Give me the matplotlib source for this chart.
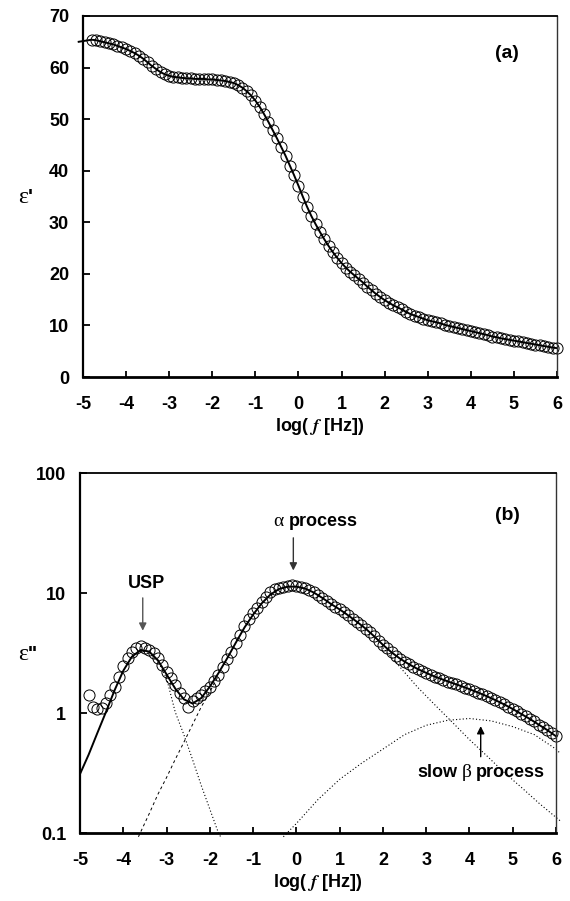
import numpy as np
import matplotlib
matplotlib.use('Agg')
import matplotlib.pyplot as plt

plt.rcParams['font.family'] = ['Liberation Sans', 'DejaVu Sans']
plt.rcParams['font.weight'] = 'bold'
plt.rcParams['axes.labelweight'] = 'bold'
plt.rcParams['mathtext.fontset'] = 'stix'

# measured frequencies, log10(f / Hz)
log_f = [-4.8, -4.7, -4.6, -4.5, -4.4, -4.3, -4.2, -4.1, -4.0, -3.9,
         -3.8, -3.7, -3.6, -3.5, -3.4, -3.3, -3.2, -3.1, -3.0, -2.9,
         -2.8, -2.7, -2.6, -2.5, -2.4, -2.3, -2.2, -2.1, -2.0, -1.9,
         -1.8, -1.7, -1.6, -1.5, -1.4, -1.3, -1.2, -1.1, -1.0, -0.9,
         -0.8, -0.7, -0.6, -0.5, -0.4, -0.3, -0.2, -0.1, 0.0, 0.1,
         0.2, 0.3, 0.4, 0.5, 0.6, 0.7, 0.8, 0.9, 1.0, 1.1,
         1.2, 1.3, 1.4, 1.5, 1.6, 1.7, 1.8, 1.9, 2.0, 2.1,
         2.2, 2.3, 2.4, 2.5, 2.6, 2.7, 2.8, 2.9, 3.0, 3.1,
         3.2, 3.3, 3.4, 3.5, 3.6, 3.7, 3.8, 3.9, 4.0, 4.1,
         4.2, 4.3, 4.4, 4.5, 4.6, 4.7, 4.8, 4.9, 5.0, 5.1,
         5.2, 5.3, 5.4, 5.5, 5.6, 5.7, 5.8, 5.9, 6.0]

# (a) real permittivity
eps_real = [65.4, 65.3, 65.1, 64.9, 64.7, 64.5, 64.2, 63.9, 63.6, 63.2,
            62.8, 62.3, 61.7, 61.0, 60.3, 59.7, 59.1, 58.7, 58.4, 58.2,
            58.1, 58.0, 57.9, 57.9, 57.8, 57.8, 57.8, 57.7, 57.7, 57.6,
            57.5, 57.4, 57.2, 57.0, 56.6, 56.1, 55.4, 54.6, 53.6, 52.4,
            51.0, 49.5, 47.9, 46.3, 44.6, 42.9, 41.0, 39.1, 37.1, 35.0,
            33.0, 31.2, 29.6, 28.1, 26.7, 25.4, 24.2, 23.1, 22.1, 21.2,
            20.4, 19.7, 19.0, 18.3, 17.5, 16.8, 16.1, 15.5, 14.9, 14.4,
            13.9, 13.5, 13.1, 12.6, 12.2, 11.9, 11.6, 11.3, 11.0, 10.8,
            10.6, 10.4, 10.1, 9.9, 9.7, 9.5, 9.3, 9.1, 8.9, 8.7,
            8.5, 8.3, 8.1, 7.85, 7.7, 7.5, 7.35, 7.2, 7.05, 6.9,
            6.75, 6.6, 6.45, 6.3, 6.15, 6.0, 5.85, 5.7, 5.6]
fit_real_start = (-5.1, 65.0)

# (b) dielectric loss
eps_loss = [1.42, 1.12, 1.08, 1.10, 1.22, 1.40, 1.65, 2.00, 2.45, 2.90,
            3.25, 3.45, 3.65, 3.45, 3.35, 3.15, 2.85, 2.50, 2.20, 1.95,
            1.70, 1.48, 1.33, 1.12, 1.25, 1.33, 1.40, 1.52, 1.66, 1.86,
            2.08, 2.40, 2.80, 3.20, 3.80, 4.50, 5.30, 6.10, 6.80, 7.50,
            8.40, 9.30, 10.1, 10.8, 11.1, 11.3, 11.5, 11.6, 11.5, 11.3,
            11.0, 10.6, 10.1, 9.6, 9.1, 8.6, 8.1, 7.7, 7.3, 6.9,
            6.5, 6.1, 5.75, 5.4, 5.05, 4.7, 4.35, 4.0, 3.7, 3.45,
            3.2, 3.0, 2.83, 2.68, 2.55, 2.43, 2.33, 2.24, 2.16, 2.08,
            2.01, 1.95, 1.89, 1.83, 1.78, 1.73, 1.68, 1.63, 1.58, 1.53,
            1.48, 1.43, 1.38, 1.33, 1.28, 1.23, 1.18, 1.13, 1.08, 1.03,
            0.98, 0.94, 0.89, 0.85, 0.80, 0.76, 0.72, 0.68, 0.64]

fit_loss_x = [-5.0, -4.8, -4.6, -4.4, -4.2, -4.0, -3.8, -3.6, -3.4, -3.2,
              -3.0, -2.8, -2.6, -2.4, -2.2, -2.0, -1.8, -1.6, -1.4, -1.2,
              -1.0, -0.8, -0.6, -0.4, -0.2, 0.0, 0.2, 0.4, 0.6, 0.8,
              1.0, 1.2, 1.4, 1.6, 1.8, 2.0, 2.2, 2.4, 2.6, 2.8,
              3.0, 3.2, 3.4, 3.6, 3.8, 4.0, 4.2, 4.4, 4.6, 4.8,
              5.0, 5.2, 5.4, 5.6, 5.8, 6.0]
fit_loss_y = [0.31, 0.45, 0.68, 1.02, 1.55, 2.25, 2.95, 3.35, 3.25, 2.75,
              2.10, 1.60, 1.30, 1.20, 1.33, 1.66, 2.15, 2.85, 3.85, 5.15,
              6.6, 8.2, 9.7, 10.8, 11.3, 11.3, 10.9, 10.1, 9.1, 8.1,
              7.3, 6.5, 5.75, 5.05, 4.35, 3.7, 3.2, 2.83, 2.55, 2.33,
              2.16, 2.01, 1.89, 1.78, 1.68, 1.58, 1.48, 1.38, 1.28, 1.18,
              1.08, 0.98, 0.89, 0.80, 0.72, 0.64]

# fitted components
usp_x = [-3.6, -3.4, -3.2, -3.0, -2.8, -2.6, -2.4, -2.2, -2.0, -1.8, -1.75]
usp_y = [3.35, 3.2, 2.7, 1.95, 1.02, 0.66, 0.41, 0.25, 0.158, 0.1, 0.093]
alpha_lo_x = [-3.65, -3.4, -3.2, -3.0, -2.8, -2.6, -2.4, -2.2, -2.0, -1.8]
alpha_lo_y = [0.093, 0.145, 0.21, 0.29, 0.41, 0.57, 0.8, 1.12, 1.5, 2.05]
alpha_hi_x = [2.0, 2.4, 2.8, 3.2, 3.6, 4.0, 4.4, 4.8, 5.2, 5.6, 6.0, 6.1]
alpha_hi_y = [3.5, 2.4, 1.64, 1.17, 0.84, 0.6, 0.44, 0.32, 0.24, 0.178, 0.135, 0.126]
beta_x = [-0.3, 0.0, 0.5, 1.0, 1.5, 2.0, 2.5, 3.0, 3.5, 4.0, 4.5, 5.0, 5.5, 6.0, 6.1]
beta_y = [0.093, 0.12, 0.19, 0.28, 0.38, 0.5, 0.66, 0.79, 0.87, 0.9, 0.86, 0.77, 0.66, 0.5, 0.46]

x_ticks = [-5, -4, -3, -2, -1, 0, 1, 2, 3, 4, 5, 6]
tick_fs = 13


def style_axes(ax):
    ax.spines['left'].set_linewidth(1.6)
    ax.spines['bottom'].set_linewidth(2.0)
    ax.spines['top'].set_linewidth(1.3)
    ax.spines['right'].set_linewidth(1.0)
    ax.spines['right'].set_color('#333333')
    ax.tick_params(axis='y', direction='in', length=5, width=1.3, pad=10,
                   labelsize=tick_fs, right=False)
    ax.tick_params(axis='x', direction='in', length=4.5, width=1.3, pad=13.5,
                   labelsize=tick_fs, top=False)
    ax.set_xlim(-5, 6)
    ax.set_xticks(x_ticks)
    ax.set_xticklabels([str(t) for t in x_ticks])
    ax.set_xlabel(r'log( $\mathit{f}$ [Hz])', fontsize=tick_fs, labelpad=2)


fig = plt.figure(figsize=(5.7, 9.01), dpi=100)
ax1 = fig.add_axes([83 / 570, 1 - 377 / 901, 474 / 570, 361 / 901])
ax2 = fig.add_axes([80 / 570, 1 - 833 / 901, 476 / 570, 360 / 901])

# panel (a)
ax1.plot([fit_real_start[0]] + log_f, [fit_real_start[1]] + eps_real,
         color='black', lw=1.4, clip_on=False)
ax1.plot(log_f, eps_real, 'o', mfc='none', mec='black', mew=0.7, ms=8,
         clip_on=False)
ax1.set_ylim(0, 70)
ax1.set_yticks(range(0, 71, 10))
style_axes(ax1)
ax1.text(0.894, 0.897, '(a)', transform=ax1.transAxes, fontsize=14,
         ha='center', va='center')

# panel (b)
ax2.set_yscale('log')
ax2.plot(usp_x, usp_y, color='black', lw=0.8, ls=(0, (1, 2)), clip_on=False)
ax2.plot(alpha_lo_x, alpha_lo_y, color='black', lw=0.7, ls=(0, (3, 3)), clip_on=False)
ax2.plot(alpha_hi_x, alpha_hi_y, color='black', lw=0.8, ls=(0, (1, 2)), clip_on=False)
ax2.plot(beta_x, beta_y, color='black', lw=0.8, ls=(0, (1, 2)), clip_on=False)
ax2.plot(fit_loss_x, fit_loss_y, color='black', lw=1.4)
ax2.plot(log_f, eps_loss, 'o', mfc='none', mec='black', mew=0.7, ms=8,
         clip_on=False)
ax2.set_ylim(0.1, 100)
ax2.set_yticks([0.1, 1, 10, 100])
ax2.set_yticklabels(['0.1', '1', '10', '100'])
ax2.yaxis.set_minor_locator(matplotlib.ticker.NullLocator())
style_axes(ax2)
ax2.text(0.897, 0.883, '(b)', transform=ax2.transAxes, fontsize=14,
         ha='center', va='center')

# annotations
ax2.text(-3.46, 12.1, 'USP', fontsize=tick_fs, ha='center', va='center')
ax2.annotate('', xy=(-3.55, 4.6), xytext=(-3.55, 9.6),
             arrowprops=dict(arrowstyle='-|>', color='#555555', lw=1.0,
                             mutation_scale=11))
ax2.text(-0.3, 36.2, 'α', fontsize=14, fontweight='normal',
         family='Liberation Serif', ha='right', va='baseline')
ax2.text(-0.17, 36.2, 'process', fontsize=tick_fs, ha='left', va='baseline')
ax2.annotate('', xy=(-0.07, 14.6), xytext=(-0.07, 30.4),
             arrowprops=dict(arrowstyle='-|>', color='#333333', lw=1.0,
                             mutation_scale=11))
ax2.text(3.72, 0.293, 'slow', fontsize=tick_fs, ha='right', va='baseline')
ax2.text(3.94, 0.293, 'β', fontsize=14, fontweight='normal',
         family='Liberation Serif', ha='center', va='baseline')
ax2.text(4.14, 0.293, 'process', fontsize=tick_fs, ha='left', va='baseline')
ax2.annotate('', xy=(4.26, 0.82), xytext=(4.26, 0.41),
             arrowprops=dict(arrowstyle='-|>', color='black', lw=1.0,
                             mutation_scale=11))

# y-axis labels
fig.text(28 / 570, 1 - 203 / 901, 'ε', fontsize=17, fontweight='normal',
         family='Liberation Serif', ha='right', va='baseline')
fig.text(28 / 570, 1 - 203 / 901, "'", fontsize=15, ha='left', va='baseline')
fig.text(28 / 570, 1 - 660 / 901, 'ε', fontsize=17, fontweight='normal',
         family='Liberation Serif', ha='right', va='baseline')
fig.text(28 / 570, 1 - 660 / 901, "''", fontsize=15, ha='left', va='baseline')

fig.savefig('out.png', dpi=100)
